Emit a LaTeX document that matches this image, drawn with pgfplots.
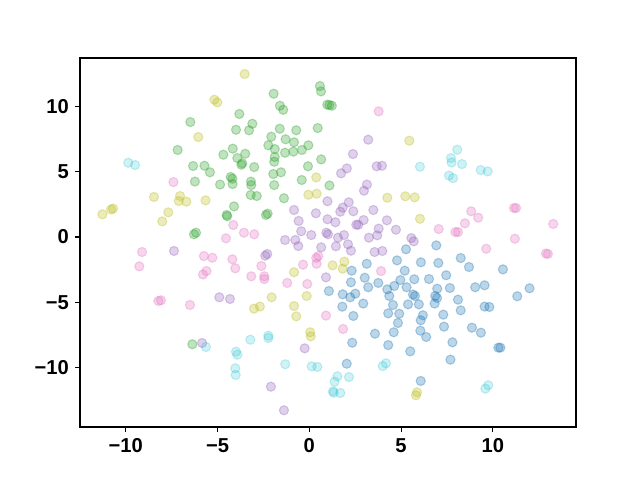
\documentclass[border=0pt]{standalone}
\usepackage{pgfplots}
\pgfplotsset{compat=1.18}
\usepackage{fontspec}
\setmainfont{Liberation Sans}
\definecolor{tabblue}{HTML}{1F77B4}
\definecolor{tabgreen}{HTML}{2CA02C}
\definecolor{tabpink}{HTML}{E377C2}
\definecolor{tabpurple}{HTML}{9467BD}
\definecolor{tabolive}{HTML}{BCBD22}
\definecolor{tabcyan}{HTML}{17BECF}
\pgfplotsset{pt/.style={only marks, mark=*, mark size=3.3pt, line width=0.8pt, color=#1, fill=#1, mark options={fill opacity=0.3, draw opacity=0.33}}}
\begin{document}
\begin{tikzpicture}
\begin{axis}[
  scale only axis, width=357.12pt, height=265.68pt,
  xmin=-12.49, xmax=14.53, ymin=-14.56, ymax=13.72,
  xtick={-10,-5,0,5,10}, xticklabels={−10,−5,0,5,10},
  ytick={-10,-5,0,5,10}, yticklabels={−10,−5,0,5,10},
  tick align=outside, tick pos=left, major tick length=3.5pt,
  axis line style={line width=0.8pt}, every tick/.style={line width=0.8pt, black},
  tick label style={font=\fontsize{14.5}{16}\selectfont\bfseries},
  xticklabel style={yshift=-1pt}, yticklabel style={xshift=-1pt},
  clip=false,
]
\addplot[pt=tabgreen] table {
x y
-6.48 8.81
-7.17 6.67
-6.33 5.44
-5.71 5.46
-6.23 4.25
0.58 11.57
0.64 11.16
-1.94 10.98
0.98 10.14
1.10 10.12
1.23 10.06
-1.60 10.06
-1.42 9.75
-3.81 9.43
-3.10 8.68
-3.99 8.22
-3.28 8.18
-1.61 8.30
-0.71 8.18
0.46 8.35
-2.07 7.69
-1.29 7.49
-0.83 7.26
-2.23 7.03
-1.88 6.74
-0.05 7.03
-4.17 6.77
-1.32 6.46
-0.87 6.54
-0.40 6.67
-4.68 6.31
-3.49 6.38
-3.92 6.05
-1.88 6.13
-1.91 5.77
0.65 5.95
-3.70 5.54
-3.65 5.65
-3.00 5.36
-0.07 5.42
-5.41 4.96
-1.96 4.83
-1.54 4.96
-4.28 4.60
-4.19 4.47
-3.18 4.25
-0.41 4.37
-4.86 4.02
-4.18 4.06
-3.16 3.98
-1.91 3.98
1.10 3.95
-3.19 3.22
-2.86 3.14
-1.38 2.97
-4.10 2.35
-4.50 1.69
-4.47 1.59
-2.36 1.69
-2.27 1.79
-6.28 0.21
-6.17 0.33
-6.37 -8.22
};
\addplot[pt=tabolive] table {
x y
-6.05 7.66
-3.52 12.49
-5.17 10.52
-5.01 10.32
0.38 4.57
-8.46 3.07
-7.04 3.14
-7.11 2.76
-6.70 2.71
-5.65 2.81
-10.80 2.11
-10.69 2.18
-11.27 1.74
-7.68 1.89
-8.01 1.20
-0.05 3.24
0.40 3.32
5.45 7.38
4.25 3.01
5.23 3.12
5.74 3.04
6.03 1.40
1.91 -1.89
1.27 -2.17
1.82 -2.43
-0.83 -2.70
-0.14 -4.52
-2.05 -4.62
-3.01 -5.49
-2.69 -5.33
-0.83 -5.29
-0.71 -6.08
0.05 -7.30
0.08 -7.61
5.87 -11.90
5.81 -12.13
};
\addplot[pt=tabpink] table {
x y
-7.40 4.21
3.78 9.63
-9.11 -1.15
-9.26 -2.25
-5.74 -1.46
-5.28 -1.59
-5.79 -2.87
-5.60 -2.61
-8.22 -4.90
-8.08 -4.85
-6.50 -5.21
-4.14 0.92
-3.56 0.33
-3.00 0.21
-4.54 -0.10
-4.19 -1.71
0.38 -1.61
0.49 -1.46
0.40 -2.05
-0.34 -2.12
-4.03 -2.40
-2.61 -2.22
-3.16 -3.01
-2.45 -3.01
-2.45 -3.22
-1.20 -3.52
-0.11 -3.60
7.05 0.61
3.91 -2.61
11.15 2.22
11.26 2.22
8.82 1.97
9.20 1.48
8.48 1.05
7.96 0.38
8.10 0.38
13.29 1.00
11.20 -0.13
9.64 -0.90
12.89 -1.26
13.00 -1.30
0.91 -6.02
1.84 -7.05
};
\addplot[pt=tabpurple] table {
x y
-7.37 -1.07
3.21 7.46
2.38 6.36
2.05 5.26
1.73 4.88
3.67 5.42
3.96 5.46
3.14 4.02
2.98 3.55
-0.83 2.07
0.36 1.82
0.99 2.74
-0.58 1.23
0.99 1.36
-0.44 0.44
0.11 0.15
0.93 0.33
1.02 0.21
-1.32 -0.23
-0.76 -0.23
-0.60 -0.69
0.65 -0.79
-2.40 -1.43
-2.29 -1.30
0.91 -3.09
-4.90 -4.62
-4.32 -4.75
2.15 2.66
1.82 2.25
1.69 1.94
2.40 1.97
3.49 2.07
1.42 1.13
2.96 1.30
2.56 0.94
2.67 0.94
4.23 1.28
3.78 0.64
4.72 0.56
1.89 0.15
1.56 -0.05
3.25 -0.05
3.70 0.13
5.56 -0.08
5.69 -0.33
2.11 -0.56
1.45 -0.71
2.27 -1.05
3.56 -1.15
3.98 -1.07
-5.84 -8.12
-0.25 -8.53
-2.09 -11.47
-1.38 -13.28
};
\addplot[pt=tabcyan, mark options={fill opacity=0.2, draw opacity=0.24}] table {
x y
-9.86 5.69
-9.49 5.52
7.72 6.05
7.75 5.71
7.61 4.71
7.83 4.52
8.06 6.69
8.32 5.59
9.34 5.13
9.72 5.03
6.03 5.39
-5.63 -8.43
-3.21 -7.87
-2.23 -7.56
-2.23 -7.74
-3.99 -8.79
-3.92 -9.02
-4.03 -10.06
-4.01 -10.57
-1.31 -9.75
0.13 -9.91
0.44 -9.96
4.00 -9.89
4.18 -9.68
1.53 -10.67
2.16 -10.73
1.38 -11.09
1.29 -11.82
1.33 -11.93
1.69 -11.95
9.75 -11.36
9.59 -11.62
};
\addplot[pt=tabblue] table {
x y
1.07 -4.14
5.27 -0.94
6.92 -0.64
4.78 -1.79
3.13 -2.05
6.08 -1.94
7.03 -1.99
2.31 -2.58
5.20 -2.58
7.46 -2.93
3.02 -3.12
4.96 -3.30
5.72 -3.24
6.52 -3.22
2.27 -3.47
3.76 -3.52
3.21 -3.85
4.25 -4.01
4.63 -3.75
5.30 -3.85
6.97 -3.96
7.66 -3.91
1.82 -4.39
2.51 -4.34
2.23 -4.62
4.36 -4.52
5.65 -4.41
5.76 -4.52
6.86 -4.52
6.96 -4.67
4.56 -5.21
5.38 -5.16
5.97 -5.16
1.80 -5.34
2.94 -5.10
6.83 -5.10
8.25 -1.61
8.70 -2.30
10.55 -2.48
9.04 -3.85
9.55 -3.70
12.00 -3.93
11.33 -4.54
8.10 -4.80
9.55 -5.33
9.81 -5.36
2.40 -6.05
4.30 -5.85
4.90 -5.88
6.19 -6.00
6.07 -6.38
7.30 -5.95
4.83 -6.59
7.34 -6.87
3.58 -7.41
4.60 -7.30
6.05 -7.18
6.37 -7.66
2.34 -8.10
4.30 -8.28
5.50 -8.76
7.80 -8.07
7.69 -9.40
2.04 -9.71
6.07 -11.03
8.25 -5.62
8.86 -6.95
9.35 -7.33
10.30 -8.48
10.41 -8.48
};
\end{axis}
\pgfresetboundingbox
\path[use as bounding box] (-57.6pt,-38.16pt) rectangle (403.2pt,307.44pt);
\end{tikzpicture}
\end{document}
